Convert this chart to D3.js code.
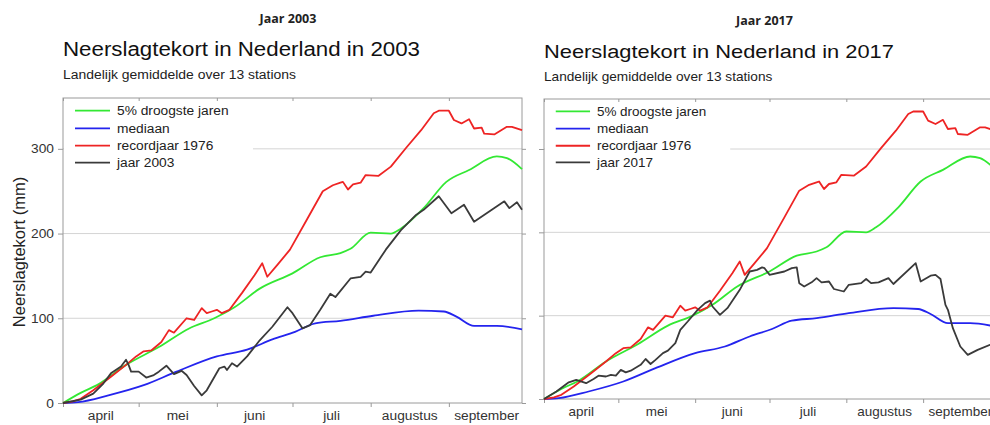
<!DOCTYPE html>
<html>
<head>
<meta charset="utf-8">
<script src="https://cdn.jsdelivr.net/npm/d3@7"></script>
<style>
  body { margin: 0; background: #fff; }
  svg { display: block; }
  text { font-family: "Liberation Sans", Arial, Helvetica, sans-serif; }
</style>
</head>
<body>
<svg id="chart" width="990" height="425"></svg>
<script>
// values: [days since 1 April, deficit in mm]
const droogste5 = [[0,0],[7,12],[14,22],[25,45],[38,66],[50,88],[60,100],[68,113],[78,135],[91,153],
  [102,172],[110,177],[114,182],[122,201],[130,200],[134,206],[143,230],[152,261],[161,275],[172,291],
  [176,289],[182,276]];

const mediaan = [[0,0],[6,1],[18,9],[32,21],[45,37],[61,55],[73,63],[83,75],[92,84],[100,94],[110,97],
  [123,103],[141,109],[151,108],[156,102],[163,91],[172,91],[182,87]];

const record1976 = [[0,0],[4,2],[7,5],[12,15],[19,31],[25,45],[29,55],[32,61],[35,62],[39,72],[42,86],
  [44,83],[49,100],[52,98],[55,112],[57,106],[59,108],[61,110],[63,106],[66,110],[71,130],[76,151],
  [79,165],[81,149],[85,163],[90,181],[97,218],[103,250],[107,257],[110,260],[111,261],[113,252],
  [115,258],[118,260],[120,269],[125,268],[130,279],[136,301],[142,322],[147,342],[149,345],[153,345],
  [155,334],[158,330],[161,335],[163,324],[166,325],[167,318],[171,317],[176,326],[178,326],[182,322]];

const jaar2003 = [[0,0],[7,4],[12,11],[16,23],[19,35],[23,43],[25,51],[26,45],[27,37],[30,37],[33,30],
  [36,33],[38,37],[41,44],[44,34],[47,38],[49,33],[52,20],[55,9],[57,15],[62,41],[64,43],[65,39],
  [67,47],[69,43],[73,55],[78,74],[83,90],[89,113],[91,106],[95,88],[98,92],[102,110],[106,129],
  [108,125],[114,147],[118,149],[120,155],[122,154],[128,181],[134,204],[140,222],[143,228],[149,244],
  [154,224],[159,234],[163,214],[169,226],[175,238],[177,230],[180,237],[182,228]];

const jaar2017 = [[0,0],[5,9],[10,20],[13,23],[17,19],[20,24],[22,28],[25,27],[27,29],[29,28],[31,35],
  [33,32],[35,34],[39,41],[41,48],[43,42],[45,47],[48,55],[50,58],[53,67],[55,83],[58,93],[62,107],
  [65,115],[67,118],[68,111],[71,101],[74,109],[79,131],[83,153],[86,155],[88,158],[89,157],[91,149],
  [97,153],[100,157],[102,158],[103,139],[105,135],[108,140],[110,145],[112,140],[115,141],[117,132],
  [121,129],[123,137],[128,139],[130,144],[132,139],[135,140],[139,145],[141,138],[150,163],[152,141],
  [156,148],[158,149],[160,144],[162,113],[163,107],[165,85],[168,63],[171,53],[175,59],[180,65],[182,67]];

const monthLabels = ["april", "mei", "juni", "juli", "augustus", "september"];
const yTicks = [0, 100, 200, 300];
const seasonStart = new Date(2003, 3, 1);
const seasonEnd = new Date(2003, 8, 30);

const svg = d3.select("#chart");

// make text a bit wider, the source picture is stretched horizontally
function widen(sel, k) {
  sel.each(function() {
    const w = this.getComputedTextLength();
    d3.select(this).attr("textLength", w * k).attr("lengthAdjust", "spacingAndGlyphs");
  });
}

const panels = [
  { year: "2003", jaar: jaar2003, left: 63, right: 522, top: 98, bottom: 403, s: 1,
    headY: 22.5, titleY: 56, subY: 79, yLabels: true },
  { year: "2017", jaar: jaar2017, left: 544, right: 995, top: 99, bottom: 399, s: 0.98,
    headY: 24.5, titleY: 57.5, subY: 80.5, yLabels: false }
];

panels.forEach(p => {
  const g = svg.append("g");
  const s = p.s;

  const x = d3.scaleTime().domain([seasonStart, seasonEnd]).range([p.left, p.right]);
  const y = d3.scaleLinear().domain([0, 360]).range([p.bottom, p.top]);
  const dx = d => x(d3.timeDay.offset(seasonStart, d[0]));

  // gridlines
  g.append("g").selectAll("line")
    .data(yTicks.filter(v => v > 0))
    .join("line")
    .attr("x1", p.left).attr("x2", p.right)
    .attr("y1", y).attr("y2", y)
    .attr("stroke", "#d4d4d4");

  // white legend background hides the gridline
  g.append("rect")
    .attr("x", p.left + 1).attr("y", p.top + 1)
    .attr("width", 189 * s).attr("height", 76 * s)
    .attr("fill", "#fff");

  // axes
  const months = d3.timeMonth.range(seasonStart, d3.timeDay.offset(seasonEnd, 1));

  const yAxis = g.append("g")
    .attr("transform", `translate(${p.left},0)`)
    .call(d3.axisLeft(y).tickValues(yTicks).tickSize(5).tickPadding(4));
  if (!p.yLabels) yAxis.selectAll("text").remove();

  g.append("g")
    .attr("transform", `translate(${p.right},0)`)
    .call(d3.axisRight(y).tickValues(yTicks).tickSize(4).tickFormat(""));

  g.append("g")
    .attr("transform", `translate(0,${p.bottom})`)
    .call(d3.axisBottom(x).tickValues(months).tickSize(4).tickFormat(""));

  g.append("g")
    .attr("transform", `translate(0,${p.top})`)
    .call(d3.axisTop(x).tickValues(months).tickSize(-3).tickFormat(""));

  g.selectAll(".domain").remove();
  g.selectAll(".tick line").attr("stroke", "#999");
  g.selectAll(".tick text")
    .attr("font-size", 12.5 * s)
    .attr("fill", "#333")
    .attr("font-family", null)
    .call(widen, 1.1);

  // frame
  g.append("rect")
    .attr("x", p.left).attr("y", p.top)
    .attr("width", p.right - p.left).attr("height", p.bottom - p.top)
    .attr("fill", "none")
    .attr("stroke", "#9a9a9a");

  // month names in the middle of each month
  g.append("g").selectAll("text")
    .data(months)
    .join("text")
    .attr("x", (m, i) => (x(m) + x(d3.timeMonth.offset(m, 1))) / 2)
    .attr("y", p.bottom + 17 * s)
    .attr("text-anchor", "middle")
    .attr("font-size", 12.5 * s)
    .attr("fill", "#333")
    .text((m, i) => monthLabels[i])
    .call(widen, 1.1);

  // lines
  const series = [
    { name: "5% droogste jaren", data: droogste5, color: "#33e833", curve: d3.curveMonotoneX },
    { name: "mediaan", data: mediaan, color: "#2424ee", curve: d3.curveMonotoneX },
    { name: "recordjaar 1976", data: record1976, color: "#ee2424", curve: d3.curveLinear },
    { name: "jaar " + p.year, data: p.jaar, color: "#3a3a3a", curve: d3.curveLinear }
  ];

  series.forEach(sr => {
    const line = d3.line().x(dx).y(d => y(d[1])).curve(sr.curve);
    g.append("path")
      .datum(sr.data)
      .attr("d", line)
      .attr("fill", "none")
      .attr("stroke", sr.color)
      .attr("stroke-width", 1.8)
      .attr("stroke-linejoin", "round");
  });

  // legend
  const rowY = [12.7, 30.3, 47.7, 64.7];
  const leg = g.append("g").selectAll("g")
    .data(series)
    .join("g")
    .attr("transform", (d, i) => `translate(${p.left},${p.top + rowY[i] * s})`);
  leg.append("line")
    .attr("x1", 12 * s).attr("x2", 47 * s)
    .attr("stroke", d => d.color)
    .attr("stroke-width", 1.8);
  leg.append("text")
    .attr("x", 54 * s)
    .attr("dy", "0.36em")
    .attr("font-size", 12.5 * s)
    .attr("fill", "#222")
    .text(d => d.name)
    .call(widen, 1.1);

  // titles
  svg.append("text")
    .attr("x", p.left + 225 * s)
    .attr("y", p.headY)
    .attr("text-anchor", "middle")
    .style("font-family", "'Open Sans', sans-serif")
    .attr("font-weight", "bold")
    .attr("font-size", 12.5)
    .attr("fill", "#222")
    .text("Jaar " + p.year);

  svg.append("text")
    .attr("x", p.left)
    .attr("y", p.titleY)
    .attr("font-size", 19.5 * s)
    .attr("fill", "#111")
    .attr("textLength", 357 * s)
    .attr("lengthAdjust", "spacingAndGlyphs")
    .text("Neerslagtekort in Nederland in " + p.year);

  svg.append("text")
    .attr("x", p.left)
    .attr("y", p.subY)
    .attr("font-size", 12.5 * s)
    .attr("fill", "#222")
    .attr("textLength", 233 * s)
    .attr("lengthAdjust", "spacingAndGlyphs")
    .text("Landelijk gemiddelde over 13 stations");

  if (p.yLabels) {
    svg.append("text")
      .attr("transform", `translate(25,252) rotate(-90)`)
      .attr("text-anchor", "middle")
      .attr("font-size", 16.5)
      .attr("fill", "#222")
      .text("Neerslagtekort (mm)");
  }
});
</script>
</body>
</html>
